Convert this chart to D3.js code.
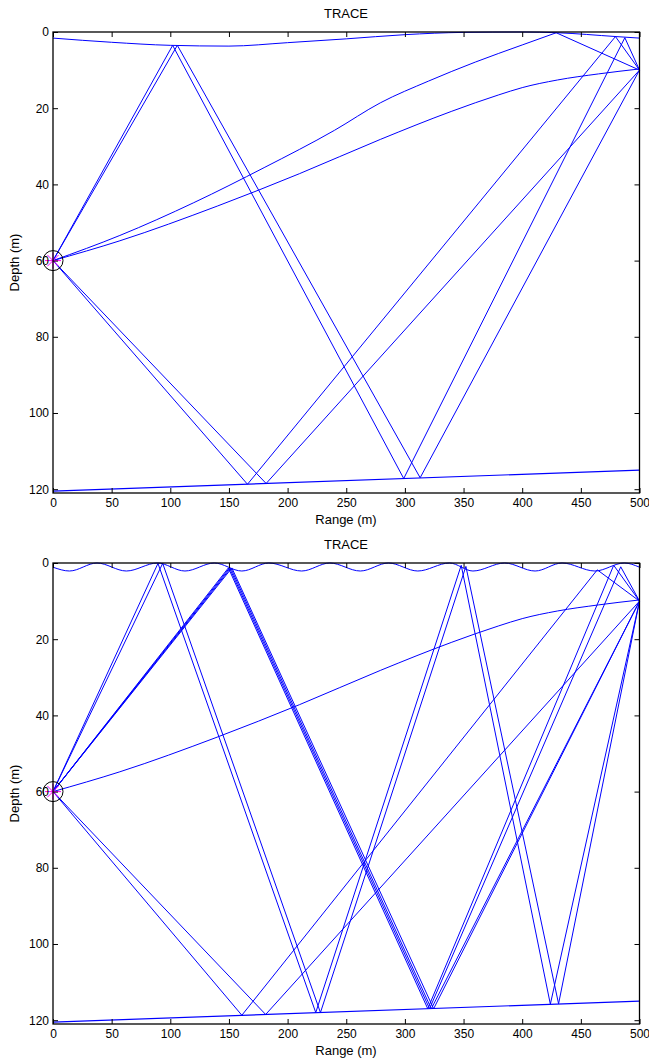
<!DOCTYPE html>
<html>
<head>
<meta charset="utf-8">
<script src="https://cdn.jsdelivr.net/npm/d3@7"></script>
<style>
  body { margin: 0; background: #fff; }
  text { font-family: "Liberation Sans", Arial, sans-serif; }
</style>
</head>
<body>
<div id="chart"></div>
<script>
// axis ticks
const xTicks = [0, 50, 100, 150, 200, 250, 300, 350, 400, 450, 500];
const yTicks = [0, 20, 40, 60, 80, 100, 120];

// source and bottom (same in both runs)
const source = [0, 60];
const bathymetry = [[0, 120.5], [500, 115]];

// run 1: smooth surface
const surfaceTop = [[0, 1.6], [50, 2.7], [100, 3.5], [150, 3.7], [200, 2.8], [250, 1.8],
  [300, 0.7], [350, 0.1], [400, 0], [430, 0.2], [480, 1.2], [500, 1.6]];

// straight ray segments, run 1
const raysTop = [
  [[0, 60], [102, 3.5], [299, 117.2], [487.5, 1.5], [500, 10]],
  [[0, 60], [106, 3.5], [313, 117], [500, 10]],
  [[0, 60], [165.8, 118.7], [479.5, 1.2], [500, 10]],
  [[0, 60], [181.7, 118.5], [500, 10]],
  [[429, 0.2], [500, 10]]
];

// refracted rays, run 1
const curvesTop = [
  [[0, 60], [57, 53.4], [120, 44.8], [180, 35.6], [240, 25.8], [279, 18.6], [320, 12.9],
   [360, 7.9], [400, 3.4], [429, 0.2]],
  [[0, 60], [57, 54.8], [140, 45.7], [210, 37.2], [279, 28.2], [340, 20.8], [380, 16.5],
   [400, 14.6], [430, 12.6], [465, 11], [500, 9.7]]
];

// run 2: wavy surface (crests and troughs)
const surfaceWavy = [[0, 1.1], [14, 2.1], [37.5, 0], [62.5, 2.1], [89, 0], [112.5, 2.1],
  [137.5, 0], [161, 2.1], [184, 0], [212, 2.1], [236, 0], [262, 2.1], [286, 0],
  [311, 2.1], [338, 0], [358, 2.1], [385, 0], [411, 2.1], [434, 0], [462, 2.1],
  [487, 0], [500, 1.1]];

// straight ray segments, run 2
const raysBottom = [
  [[0, 60], [89.5, 0.1], [224, 118], [348, 0.6], [424, 115.8], [500, 10]],
  [[0, 60], [93.5, 0.1], [228, 118], [352, 0.9], [431, 115.7], [500, 10]],
  [[0, 60], [149.5, 1.3], [319.5, 117], [478, 0.6], [500, 10]],
  [[0, 60], [150.5, 1.3], [321, 117], [484, 1.0], [500, 10]],
  [[0, 60], [151.5, 1.3], [322.5, 117], [500, 10]],
  [[0, 60], [152.5, 1.3], [324.5, 117], [500, 10]],
  [[0, 60], [161, 118.7], [464, 1.8], [500, 10]],
  [[0, 60], [181.3, 118.5], [500, 10]]
];

// refracted rays, run 2
const curvesBottom = [
  [[0, 60], [57, 54.8], [140, 45.7], [210, 37.2], [279, 28.2], [340, 20.8], [380, 16.5],
   [400, 14.6], [430, 12.6], [465, 11], [500, 9.7]]
];

const width = 649, height = 1061;
const svg = d3.select("#chart").append("svg")
  .attr("width", width)
  .attr("height", height);

const blue = "#0000ff";

function drawPanel(top, surface, rays, curves) {
  const plotH = 461;
  const x = d3.scaleLinear().domain([0, 500]).range([53, 639.5]);
  const y = d3.scaleLinear().domain([0, 121]).range([top, top + plotH]);
  const g = svg.append("g");

  const straight = d3.line().x(d => x(d[0])).y(d => y(d[1]));
  const smooth = d3.line().x(d => x(d[0])).y(d => y(d[1])).curve(d3.curveMonotoneX);

  g.selectAll(".ray").data(rays).enter().append("path")
    .attr("d", straight).attr("fill", "none").attr("stroke", blue).attr("stroke-width", 1);
  g.selectAll(".curve").data(curves).enter().append("path")
    .attr("d", smooth).attr("fill", "none").attr("stroke", blue).attr("stroke-width", 1);

  g.append("path").attr("d", smooth(surface))
    .attr("fill", "none").attr("stroke", blue).attr("stroke-width", 1);
  g.append("path").attr("d", straight(bathymetry))
    .attr("fill", "none").attr("stroke", blue).attr("stroke-width", 1.2);

  // source marker: circle with asterisk
  const sx = x(source[0]), sy = y(source[1]);
  g.append("circle").attr("cx", sx).attr("cy", sy).attr("r", 10)
    .attr("fill", "none").attr("stroke", "#000").attr("stroke-width", 1);
  [[1, 0], [0, 1], [0.707, 0.707], [0.707, -0.707]].forEach(([a, b]) => {
    g.append("line")
      .attr("x1", sx - 8 * a).attr("y1", sy - 8 * b)
      .attr("x2", sx + 8 * a).attr("y2", sy + 8 * b)
      .attr("stroke", "#ff00ff").attr("stroke-width", 1);
  });

  // axes, ticks pointing inward
  const fix = sel => {
    sel.select(".domain").remove();
    sel.selectAll("line").attr("stroke", "#000");
    sel.selectAll("text").attr("font-size", 12).attr("fill", "#000")
      .attr("font-family", "Liberation Sans, Arial, sans-serif");
  };
  g.append("g").attr("transform", `translate(0,${top + plotH})`)
    .call(d3.axisBottom(x).tickValues(xTicks).tickSize(-5).tickPadding(5)).call(fix);
  g.append("g").attr("transform", `translate(0,${top})`)
    .call(d3.axisTop(x).tickValues(xTicks).tickSize(-5).tickFormat("")).call(fix);
  g.append("g").attr("transform", "translate(53,0)")
    .call(d3.axisLeft(y).tickValues(yTicks).tickSize(-5).tickPadding(4)).call(fix);
  g.append("g").attr("transform", "translate(639.5,0)")
    .call(d3.axisRight(y).tickValues(yTicks).tickSize(-5).tickFormat("")).call(fix);

  g.append("rect").attr("x", 53).attr("y", top).attr("width", 586.5).attr("height", plotH)
    .attr("fill", "none").attr("stroke", "#000").attr("stroke-width", 1.3);

  g.append("text").attr("x", 346).attr("y", top - 14)
    .attr("text-anchor", "middle").attr("font-size", 13).text("TRACE");
  g.append("text").attr("x", 346).attr("y", top + plotH + 31)
    .attr("text-anchor", "middle").attr("font-size", 13).text("Range (m)");
  g.append("text")
    .attr("transform", `translate(19,${top + plotH / 2}) rotate(-90)`)
    .attr("text-anchor", "middle").attr("font-size", 13).text("Depth (m)");
}

drawPanel(32, surfaceTop, raysTop, curvesTop);
drawPanel(563, surfaceWavy, raysBottom, curvesBottom);
</script>
</body>
</html>
